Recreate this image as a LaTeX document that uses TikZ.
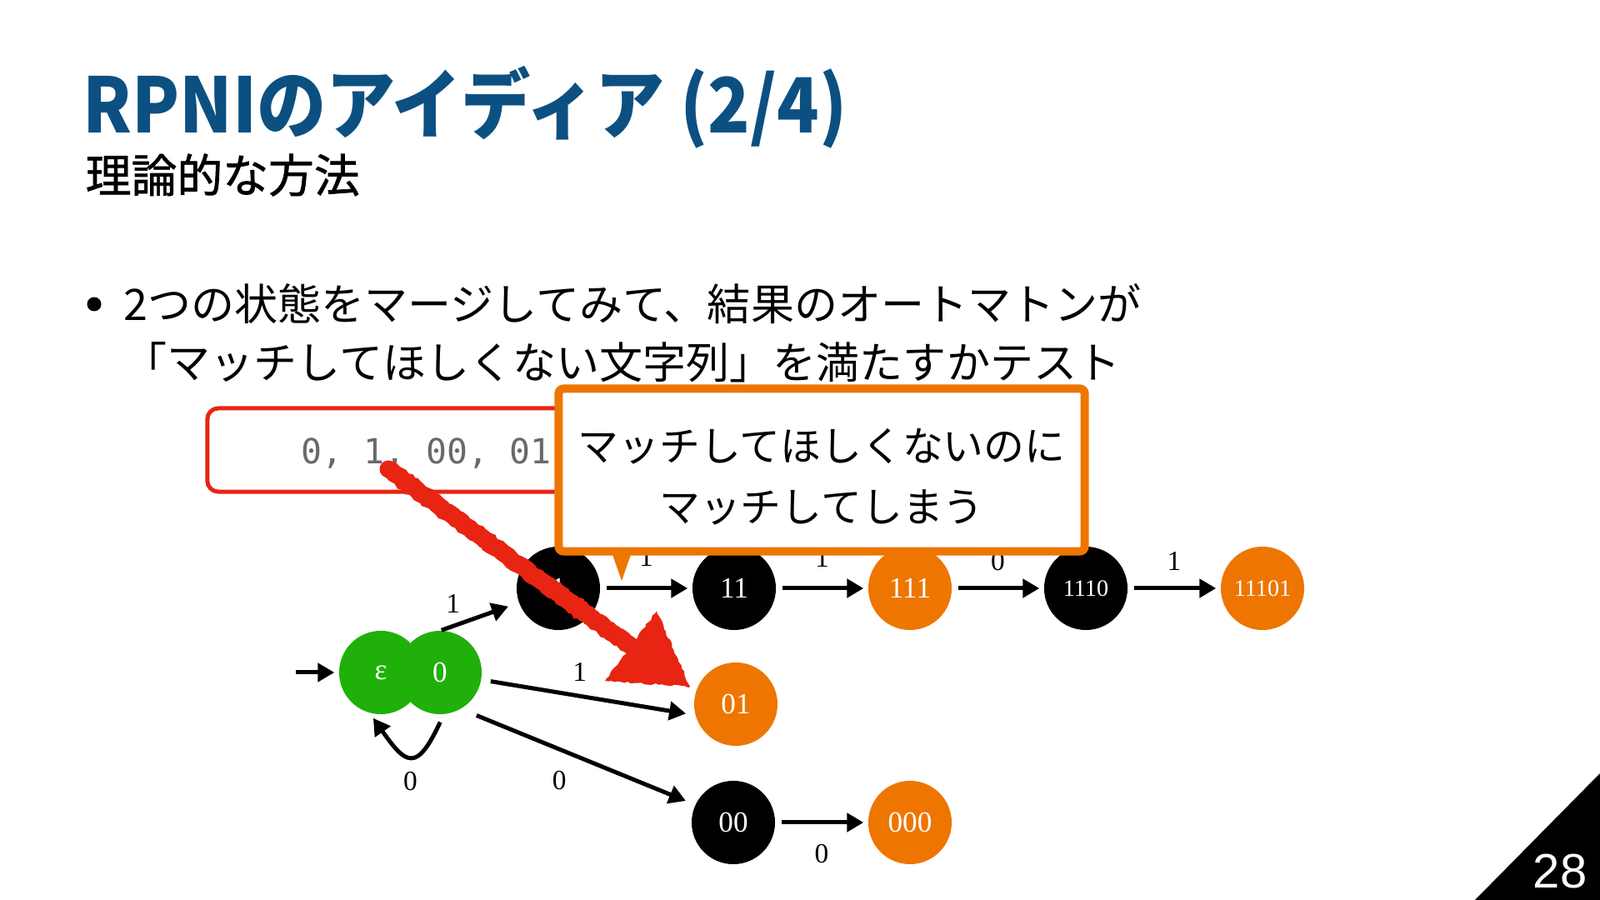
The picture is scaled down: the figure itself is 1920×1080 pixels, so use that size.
\documentclass[tikz,border=0pt]{standalone}
\usepackage{fontspec}
\usepackage{tikz}
\usetikzlibrary{positioning,arrows.meta,decorations.pathmorphing}
\setmainfont{Liberation Serif}
\newfontfamily\jpfont{Noto Sans CJK JP}
\newfontfamily\jptitlefont{Noto Sans CJK JP}[FakeStretch=0.91]
\newfontfamily\jpsubfont{Noto Sans CJK JP}[FakeBold=1.2]
\newfontfamily\codefont{DejaVu Sans Mono}
\newfontfamily\pagefont{Liberation Sans}
\definecolor{TitleBlue}{RGB}{12,80,130}
\definecolor{StateOrange}{RGB}{238,118,0}
\definecolor{MergeGreen}{RGB}{32,176,10}
\definecolor{PenRed}{RGB}{232,36,18}
\definecolor{CodeGray}{RGB}{105,105,105}

\begin{document}
\begin{tikzpicture}[x=0.01cm, y=-0.01cm,
    state/.style={circle, fill=black, text=white, minimum size=1cm, inner sep=0pt, font=\fontsize{10}{12}\selectfont},
    accept/.style={state, fill=StateOrange},
    merged/.style={state, fill=MergeGreen},
    longname/.style={font=\fontsize{8}{10}\selectfont},
    trans/.style={-{Triangle[length=0.2cm, width=0.22cm]}, line width=0.05cm, shorten <=0.07cm, shorten >=0.05cm},
    lbl/.style={font=\fontsize{9.5}{11}\selectfont, inner sep=1pt},
    bodytext/.style={font=\jpfont\fontsize{14.8}{17}\selectfont, anchor=west, inner sep=0pt},
    pen/.style={PenRed, decorate, decoration={random steps, segment length=0.04cm, amplitude=0.012cm}},
]
\useasboundingbox (0,0) rectangle (1920,1080);

% title
\node[anchor=base west, inner sep=0pt, text=TitleBlue, font=\jptitlefont\bfseries\fontsize{26}{30}\selectfont] (title) at (99,160) {RPNIのアイディア (2/4)};
\node[anchor=west, inner sep=0pt, font=\jpsubfont\fontsize{15.6}{18}\selectfont] (subtitle) at (102,210) {理論的な方法};

\node[circle, fill=black, inner sep=0pt, minimum size=0.17cm] (bullet) at (113,365) {};
\node[bodytext] (line1) at (148,365) {2つの状態をマージしてみて、結果のオートマトンが};
\node[bodytext] (line2) at (148,435) {「マッチしてほしくない文字列」を満たすかテスト};

% negative samples
\node[draw=PenRed, line width=0.05cm, rounded corners=0.13cm, minimum width=6.5cm, minimum height=1cm] (negbox) at (574,540) {};
\node[anchor=base west, inner sep=0pt, text=CodeGray, font=\codefont\fontsize{11.8}{14}\selectfont] (negtext) at (361,557) {0, 1, 00, 01};

% automaton
\node[merged] (eps) at (457,807) {ε};
\node[merged] (z0) at (528,807) {0};
\node[state] (n1) at (670,706) {1};
\node[state] (n11) at (881,706) {11};
\node[accept] (n111) at (1092,706) {111};
\node[state, longname] (n1110) at (1303,706) {1110};
\node[accept, longname] (n11101) at (1515,706) {11101};
\node[accept] (n01) at (883,845) {01};
\node[state] (n00) at (880,987) {00};
\node[accept] (n000) at (1092,987) {000};

\coordinate (init) at (355,807);
\draw[trans, shorten <=0pt] (init) -- (eps);
\draw[trans, shorten <=0pt, shorten >=0.13cm] (z0.88) -- node[lbl, pos=0.15, above=0.1cm] {1} (n1.200);
\draw[trans, shorten <=0.11cm, shorten >=0.11cm] (z0.-10) -- node[lbl, pos=0.46, above=0.12cm] {1} (n01.195);
\draw[trans, shorten <=0.2cm, shorten >=0.12cm] (z0.-60) -- node[lbl, pos=0.42, below=0.2cm] {0} (n00.155);
\draw[trans, shorten <=0.1cm, shorten >=0.07cm] (z0.-85) to[out=-115, in=-55, looseness=2.2] node[lbl, below=0.14cm] {0} (eps.-105);

\draw[trans] (n1) -- node[lbl, above=0.2cm] {1} (n11);
\draw[trans] (n11) -- node[lbl, above=0.19cm] {1} (n111);
\draw[trans] (n111) -- node[lbl, above=0.15cm] {0} (n1110);
\draw[trans] (n1110) -- node[lbl, above=0.15cm] {1} (n11101);
\draw[trans] (n00) -- node[lbl, below=0.2cm] {0} (n000);

% callout
\node[draw=StateOrange, fill=white, line width=0.1cm, rounded corners=0.06cm, minimum width=6.31cm, minimum height=1.95cm] (note) at (986,564) {};
\fill[StateOrange] (733,660) -- (759,660) -- (746,697) -- cycle;
\node[align=center, font=\jpfont\fontsize{13.9}{20.8}\selectfont, inner sep=0pt] (notetext) at (986,572) {マッチしてほしくないのに\\マッチしてしまう};

% hand drawn arrow
\coordinate (penstart) at (466,563);
\coordinate (penend) at (760,778);
\draw[pen, line width=0.21cm, line cap=round] (penstart) -- (penend);
\fill[pen] (726,817) -- (828,824) -- (788,733) -- cycle;

% page number
\fill (1770,1080) -- (1920,928) -- (1920,1080) -- cycle;
\node[text=white, font=\pagefont\fontsize{16.5}{18}\selectfont, inner sep=0pt] (pagenum) at (1872,1046) {28};
\end{tikzpicture}
\end{document}
